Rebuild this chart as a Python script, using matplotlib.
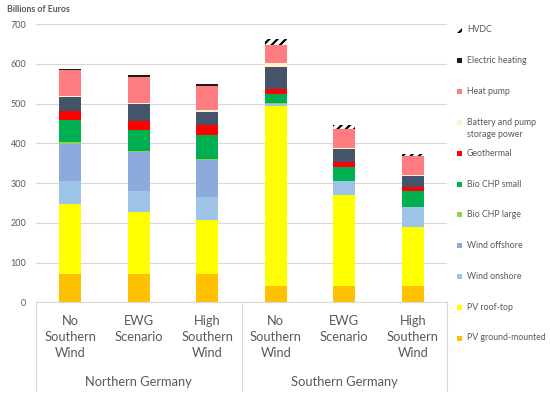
import numpy as np
import matplotlib
matplotlib.use("Agg")
import matplotlib.pyplot as plt
from matplotlib.patches import Rectangle

plt.rcParams['font.family'] = ['Lato', 'DejaVu Sans']

categories = ["No\nSouthern\nWind", "EWG\nScenario", "High\nSouthern\nWind",
              "No\nSouthern\nWind", "EWG\nScenario", "High\nSouthern\nWind"]
groups = ["Northern Germany", "Southern Germany"]

# stacked segments, bottom to top (billions of euros)
pv_ground = [71, 71, 71, 42, 42, 42]
pv_roof = [177, 156, 137, 451, 228, 147]
wind_on = [56, 54, 56, 7, 34, 50]
wind_off = [95, 97, 95, 0, 0, 0]
bio_large = [3, 2.5, 2.5, 1, 1.5, 1]
bio_small = [56, 53, 60, 23, 36, 39]
geothermal = [23.5, 23.5, 23.5, 12, 12.5, 11]
unlabeled = [36, 42, 34, 56, 31, 28.5]
battery = [1, 2.5, 4, 9, 4, 2.5]
heat_pump = [65, 65.5, 61.5, 46, 46, 46]
el_heating = [3, 3.5, 4, 0, 0, 0]
hvdc = [0, 0, 0, 16, 11.5, 6]

series = [
    ("PV ground-mounted", pv_ground, "#FFC000"),
    ("PV roof-top", pv_roof, "#FFFF00"),
    ("Wind onshore", wind_on, "#9DC3E6"),
    ("Wind offshore", wind_off, "#8EA9DB"),
    ("Bio CHP large", bio_large, "#92D050"),
    ("Bio CHP small", bio_small, "#00B050"),
    ("Geothermal", geothermal, "#FF0000"),
    (None, unlabeled, "#44546A"),
    ("Battery and pump\nstorage power", battery, "#FFF2CC"),
    ("Heat pump", heat_pump, "#FF7C80"),
    ("Electric heating", el_heating, "#1A1A1A"),
]

grey = "#595959"
fig = plt.figure(figsize=(5.5, 4.01), dpi=100)
ax = fig.add_axes([36 / 550, 1 - 302.3 / 401, 411 / 550, 278.3 / 401])

x = np.arange(len(categories))
bottom = np.zeros(len(categories))
for name, vals, col in series:
    ax.bar(x, vals, 0.32, bottom=bottom, color=col, linewidth=0, zorder=3)
    bottom += np.array(vals)
plt.rcParams['hatch.linewidth'] = 1.6
ax.bar(x, hvdc, 0.32, bottom=bottom, color="white", edgecolor="black",
       hatch="////", linewidth=0, zorder=3)

ax.set_xlim(-0.5, 5.5)
ax.set_ylim(0, 700)
ax.set_yticks(range(0, 701, 100))
ax.yaxis.grid(True, color="#D9D9D9", linewidth=0.8, zorder=0)
for s in ["left", "right", "top"]:
    ax.spines[s].set_visible(False)
ax.spines["bottom"].set_color("#D9D9D9")
ax.tick_params(axis="y", length=0, pad=7, labelsize=6.5, labelcolor=grey)
ax.set_xticks([])

tr = ax.get_xaxis_transform()
for xv in [-0.5, 2.5, 5.5]:
    ax.plot([xv, xv], [0, -0.318], color="#D9D9D9", lw=0.8, transform=tr, clip_on=False)
for i, c in enumerate(categories):
    ax.text(i, -0.045, c, transform=tr, ha="center", va="top", fontsize=9.3,
            color=grey, linespacing=1.42)
for i, g in enumerate(groups):
    ax.text(1 + 3 * i, -0.286, g, transform=tr, ha="center", va="center",
            fontsize=9.3, color=grey)

fig.text(7 / 550, 1 - 10 / 401, "Billions of Euros", fontsize=6.3, fontweight="bold",
         color=grey, ha="left", va="center")

# legend, top to bottom
legend_items = [("HVDC", None)] + [(n, c) for n, v, c in reversed(series) if n]
for i, (name, col) in enumerate(legend_items):
    yc = 1 - (30 + i * 30.8) / 401
    if col is None:
        r = Rectangle((457 / 550, yc - 2.5 / 401), 5 / 550, 5 / 401, transform=fig.transFigure,
                      facecolor="white", edgecolor="black", hatch="////", linewidth=0)
    else:
        r = Rectangle((457 / 550, yc - 2.5 / 401), 5 / 550, 5 / 401, transform=fig.transFigure,
                      facecolor=col, linewidth=0)
    fig.add_artist(r)
    fig.text(467 / 550, yc + 4.5 / 401, name, fontsize=6.3, color=grey, ha="left",
             va="top", linespacing=1.5)

fig.savefig("out.png", dpi=100)
